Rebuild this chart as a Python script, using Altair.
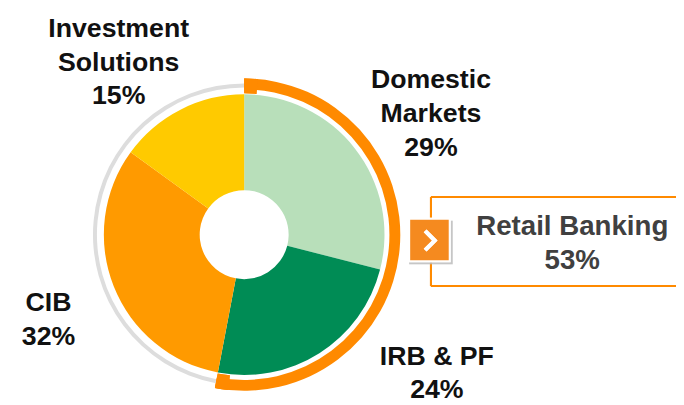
import math
import altair as alt
import pandas as pd

# ---- data ----
categories = ["Domestic Markets", "IRB & PF", "CIB", "Investment Solutions"]
shares = [29, 24, 32, 15]
label_lines = [["Domestic", "Markets"], ["IRB & PF"], ["CIB"], ["Investment", "Solutions"]]
slice_colors = ["#B8DFBA", "#008C55", "#FF9A00", "#FFCA00"]
group_name = "Retail Banking"
group_members = ["Domestic Markets", "IRB & PF"]

group_share = sum(v for c, v in zip(categories, shares) if c in group_members)

pie_df = pd.DataFrame({"category": categories, "share": shares, "order": range(len(categories))})
ring_df = pd.DataFrame({"segment": [group_name, "Other"],
                        "share": [group_share, 100 - group_share],
                        "order": [0, 1]})

# ---- layout (pixels, chart coords) ----
CX, CY = 239, 227
ORANGE = "#FF8A00"
FONT = "Liberation Sans"

center = dict(x=alt.value(CX), y=alt.value(CY))

pie = alt.Chart(pie_df).mark_arc(innerRadius=45, outerRadius=142).encode(
    theta=alt.Theta("share:Q", stack=True),
    order=alt.Order("order:Q"),
    color=alt.Color("category:N", scale=alt.Scale(domain=categories, range=slice_colors), legend=None),
    **center,
)

gray_ring = alt.Chart(ring_df).mark_arc(innerRadius=149, outerRadius=153).encode(
    theta=alt.Theta("share:Q", stack=True),
    order=alt.Order("order:Q"),
    fill=alt.condition(alt.datum.segment == "Other", alt.value("#DDDDDD"), alt.value("transparent")),
    **center,
)

orange_ring = alt.Chart(ring_df).mark_arc(innerRadius=147, outerRadius=158).encode(
    theta=alt.Theta("share:Q", stack=True),
    order=alt.Order("order:Q"),
    fill=alt.condition(alt.datum.segment == group_name, alt.value(ORANGE), alt.value("transparent")),
    **center,
)

end_angle = 2 * math.pi * group_share / 100
cap_w = 0.087
cap1 = alt.Chart(ring_df).mark_arc(theta=0, theta2=cap_w, innerRadius=143, outerRadius=158,
                                   color=ORANGE).encode(**center)
cap2 = alt.Chart(ring_df).mark_arc(theta=end_angle - cap_w, theta2=end_angle, innerRadius=143,
                                   outerRadius=158, color=ORANGE).encode(**center)

label_pos = {
    "Domestic Markets": (428, 79, 34),
    "IRB & PF": (434, 359, 33),
    "CIB": (41, 304, 35),
    "Investment Solutions": (112, 27, 34),
}

layers = [gray_ring, orange_ring, cap1, cap2, pie]
for cat, val, lines in zip(categories, shares, label_lines):
    lx, ly, lh = label_pos[cat]
    layers.append(
        alt.Chart(pie_df).mark_text(font=FONT, fontSize=27, fontWeight="bold", color="#111111",
                                    align="center", baseline="alphabetic", lineHeight=lh).encode(
            x=alt.value(lx), y=alt.value(ly), text=alt.value(lines + [f"{val}%"])
        ).transform_filter(alt.datum.category == cat)
    )

# ---- callout box ----
box_l, box_t, box_b, box_r = 428, 189, 279, 680
layers += [
    alt.Chart(ring_df).mark_rule(color=ORANGE, strokeWidth=2).encode(
        x=alt.value(box_l), x2=alt.value(box_r), y=alt.value(box_t)),
    alt.Chart(ring_df).mark_rule(color=ORANGE, strokeWidth=2).encode(
        x=alt.value(box_l), x2=alt.value(box_r), y=alt.value(box_b)),
    alt.Chart(ring_df).mark_rule(color=ORANGE, strokeWidth=2).encode(
        x=alt.value(box_l), y=alt.value(box_t), y2=alt.value(box_b)),
    # shadow
    alt.Chart(ring_df).mark_rect(fill="#BBBBBB", opacity=0.6).encode(
        x=alt.value(406), x2=alt.value(450), y=alt.value(213), y2=alt.value(257)),
    alt.Chart(ring_df).mark_rect(fill="#F58A1F", stroke="white", strokeWidth=2).encode(
        x=alt.value(406), x2=alt.value(447), y=alt.value(211), y2=alt.value(254)),
    alt.Chart(ring_df).mark_point(shape="M-0.5,-1L0.5,0L-0.5,1", filled=False, stroke="white",
                                  strokeWidth=4, size=380, opacity=1).encode(
        x=alt.value(427), y=alt.value(233)),
]

ret_text = alt.Chart(ring_df).mark_text(font=FONT, fontSize=28, fontWeight="bold", color="#404040",
                                        align="center", baseline="alphabetic", lineHeight=35).encode(
    x=alt.value(571), y=alt.value(227), text=alt.value([group_name, f"{group_share}%"])
).transform_filter(alt.datum.segment == group_name)
layers.append(ret_text)

chart = alt.layer(*layers).properties(
    width=676, height=397, padding=0,
    autosize=alt.AutoSizeParams(type="none"),
).configure_view(stroke=None)

chart.save("out.html", embed_options={"renderer": "svg", "actions": False})
